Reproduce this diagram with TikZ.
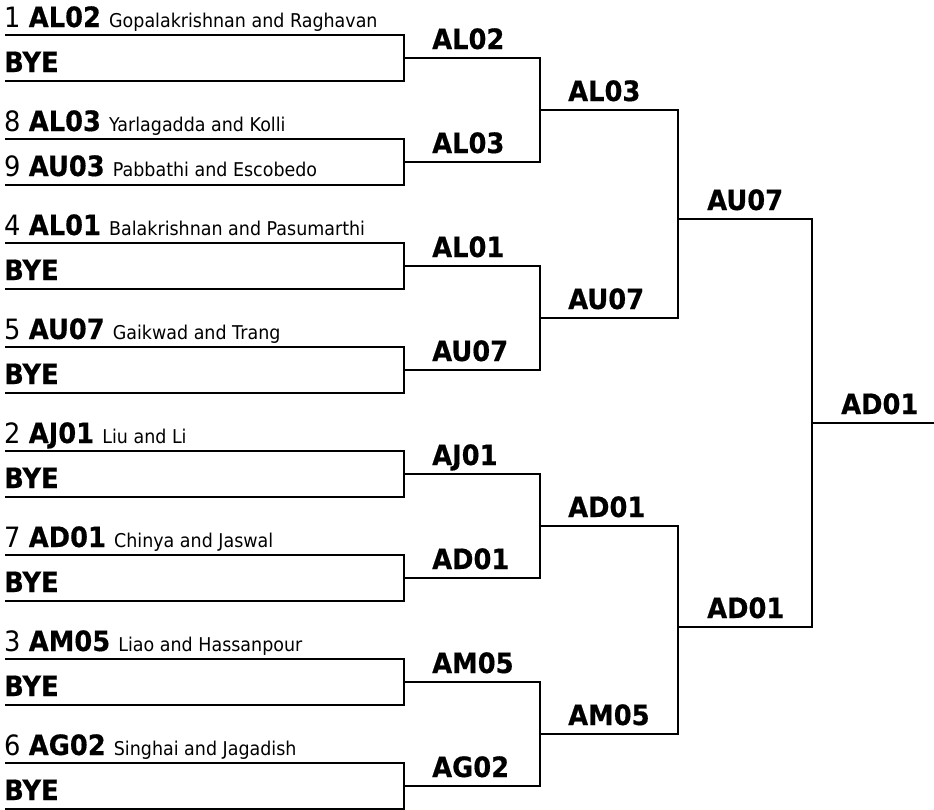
\documentclass[tikz,border=0pt]{standalone}
\usepackage{fontspec}
\setmainfont{DejaVu Sans}[FakeStretch=0.92,BoldFeatures={FakeBold=0.5}]
\usepackage{tikz}

\tikzset{
  bline/.style={line width=2pt},
  entry/.style={anchor=base west, inner sep=0pt, font=\fontsize{28}{30}\selectfont},
  winner/.style={anchor=base west, inner sep=0pt, font=\fontsize{28}{30}\selectfont\bfseries}
}
\newcommand{\team}[3]{#1 \textbf{#2} {\fontsize{19}{20}\selectfont #3}}
\newcommand{\bye}{\textbf{BYE}}

\begin{document}
\begin{tikzpicture}[x=1pt,y=-1pt]
            \useasboundingbox (0,0) rectangle (934,809);
            % Round 1: first matches
            \foreach \k/\up/\down in {
                0/{\team{1}{AL02}{Gopalakrishnan and Raghavan}}/{\bye},
                1/{\team{8}{AL03}{Yarlagadda and Kolli}}/{\team{9}{AU03}{Pabbathi and Escobedo}},
                2/{\team{4}{AL01}{Balakrishnan and Pasumarthi}}/{\bye},
                3/{\team{5}{AU07}{Gaikwad and Trang}}/{\bye},
                4/{\team{2}{AJ01}{Liu and Li}}/{\bye},
                5/{\team{7}{AD01}{Chinya and Jaswal}}/{\bye},
                6/{\team{3}{AM05}{Liao and Hassanpour}}/{\bye},
                7/{\team{6}{AG02}{Singhai and Jagadish}}/{\bye}} {
                \coordinate (tl\k) at (5,{35+104*\k});
                \coordinate (bl\k) at (5,{81+104*\k});
                \coordinate (j1-\k) at (404,{58+104*\k});
                \draw[bline] (tl\k) -- (tl\k -| j1-\k) -- (bl\k -| j1-\k) -- (bl\k);
                \node[entry] (up\k) at ([xshift=-1pt,yshift=8pt]tl\k) {\up};
                \node[entry] (down\k) at ([xshift=-1pt,yshift=9pt]bl\k) {\down};
            }
            % Round 2
            \foreach \k/\w in {0/AL02,1/AL03,2/AL01,3/AU07,4/AJ01,5/AD01,6/AM05,7/AG02} {
                \coordinate (j2-\k) at (540,{58+104*\k});
                \node[winner] (w2-\k) at ([xshift=28pt,yshift=9pt]j1-\k) {\w};
            }
            \foreach \a/\b in {0/1,2/3,4/5,6/7}
                \draw[bline] (j1-\a) -- (j2-\a) -- (j2-\b) -- (j1-\b);
            % Round 3
            \foreach \k/\w in {0/AL03,1/AU07,2/AD01,3/AM05} {
                \coordinate (k3-\k) at (540,{110+208*\k});
                \coordinate (j3-\k) at (678,{110+208*\k});
                \node[winner] (w3-\k) at ([xshift=28pt,yshift=9pt]k3-\k) {\w};
            }
            \foreach \a/\b in {0/1,2/3}
                \draw[bline] (k3-\a) -- (j3-\a) -- (j3-\b) -- (k3-\b);
            % Semi finals
            \coordinate (k4-0) at (678,219);
            \coordinate (j4-0) at (812,219);
            \coordinate (k4-1) at (678,627);
            \coordinate (j4-1) at (812,627);
            \node[winner] (w4-0) at ([xshift=29pt,yshift=9pt]k4-0) {AU07};
            \node[winner] (w4-1) at ([xshift=29pt,yshift=9pt]k4-1) {AD01};
            \draw[bline] (k4-0) -- (j4-0) -- (j4-1) -- (k4-1);
            % Champion
            \coordinate (k5) at (812,423);
            \coordinate (j5) at (934,423);
            \node[winner] (champ) at ([xshift=29pt,yshift=9pt]k5) {AD01};
            \draw[bline] (k5) -- (j5);
        \end{tikzpicture}
\end{document}
